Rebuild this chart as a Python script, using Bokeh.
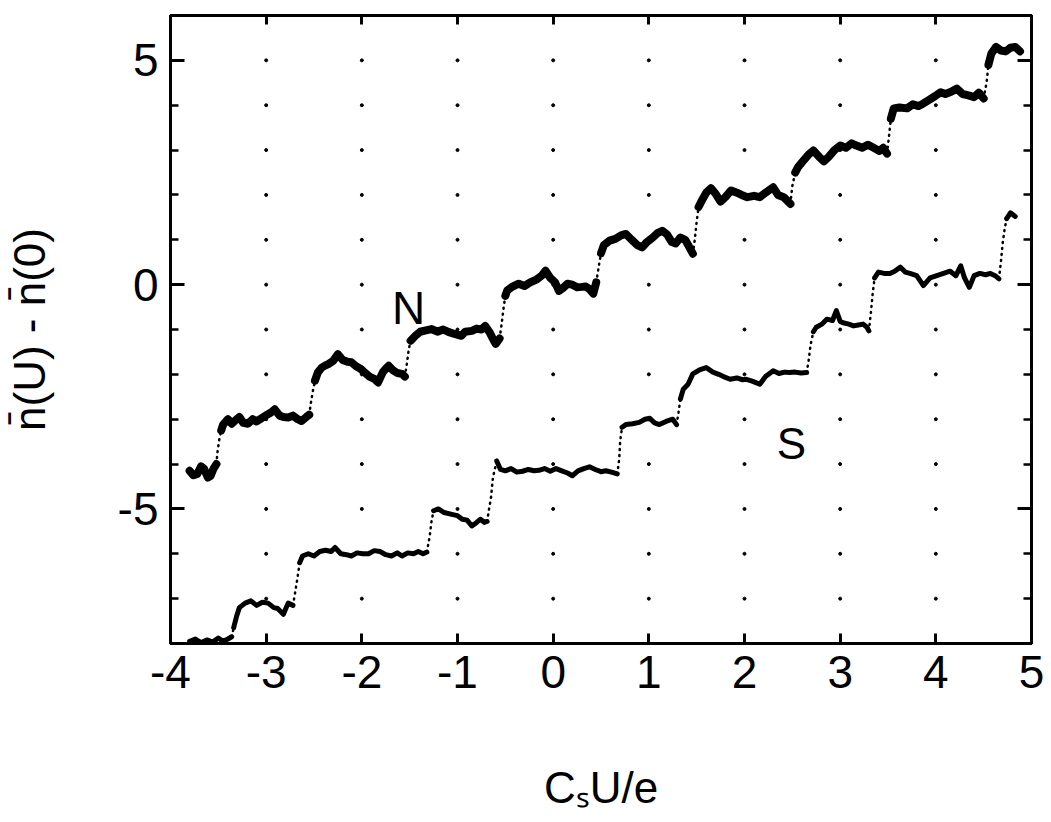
import numpy as np
from bokeh.plotting import figure
from bokeh.models import Range1d, FixedTicker, LinearAxis, Label, CustomJSTickFormatter
from bokeh.embed import file_html
from bokeh.resources import INLINE

# ---------------- data ----------------
X_TICKS = [-4, -3, -2, -1, 0, 1, 2, 3, 4, 5]
X_TICK_LABELS = ["-4", "-3", "-2", "-1", "0", "1", "2", "3", "4", "5"]
Y_TICKS = [-5, 0, 5]
Y_TICK_LABELS = ["-5", "0", "5"]
Y_MINOR = list(range(-8, 7))

N_X = [-3.80, -3.76, -3.72, -3.68, -3.65, -3.61, -3.58, -3.55, -3.52,
       -3.51, -3.49, -3.47, -3.45, -3.40, -3.36, -3.33, -3.28, -3.24, -3.19, -3.14, -3.10, -3.05,
       -2.99, -2.95, -2.91, -2.86, -2.82, -2.77, -2.72, -2.67, -2.63, -2.58, -2.55,
       -2.53, -2.51, -2.49, -2.46, -2.42, -2.38, -2.35, -2.30, -2.25, -2.20, -2.15, -2.11, -2.06,
       -2.01, -1.97, -1.92, -1.87, -1.83, -1.78, -1.74, -1.72, -1.68, -1.63, -1.58, -1.55,
       -1.53, -1.51, -1.49, -1.44, -1.39, -1.33, -1.27, -1.21, -1.15, -1.09, -1.03, -0.96, -0.92,
       -0.85, -0.80, -0.75, -0.71, -0.66, -0.62, -0.60, -0.56,
       -0.54, -0.52, -0.50, -0.48, -0.43, -0.36, -0.30, -0.24, -0.17, -0.12, -0.08, -0.03, 0.02,
       0.06, 0.10, 0.15, 0.20, 0.25, 0.30, 0.34, 0.38, 0.42,
       0.45, 0.48, 0.50, 0.53, 0.59, 0.65, 0.71, 0.76, 0.82, 0.88, 0.93, 0.98, 1.04, 1.09, 1.14,
       1.19, 1.24, 1.28, 1.33, 1.38, 1.42, 1.46,
       1.48, 1.50, 1.52, 1.56, 1.60, 1.65, 1.70, 1.75, 1.80, 1.86, 1.92, 1.97, 2.03, 2.10, 2.16,
       2.22, 2.30, 2.35, 2.41, 2.48,
       2.50, 2.53, 2.56, 2.61, 2.67, 2.72, 2.78, 2.83, 2.88, 2.94, 3.00, 3.06, 3.12, 3.17, 3.23,
       3.29, 3.35, 3.41, 3.45, 3.49,
       3.51, 3.53, 3.56, 3.62, 3.70, 3.76, 3.82, 3.87, 3.93, 3.99, 4.05, 4.10, 4.16, 4.22, 4.28,
       4.34, 4.40, 4.45, 4.50,
       4.53, 4.55, 4.58, 4.63, 4.68, 4.73, 4.78, 4.83, 4.88]
N_Y = [-4.15, -4.25, -4.22, -4.05, -4.10, -4.30, -4.26, -4.10, -4.00,
       -3.75, -3.45, -3.25, -3.12, -3.00, -3.10, -3.04, -2.95, -3.08, -3.10, -3.00, -3.05, -2.98,
       -2.90, -2.85, -2.78, -2.92, -2.95, -2.96, -2.92, -3.00, -3.04, -2.95, -2.90,
       -2.60, -2.35, -2.14, -1.96, -1.85, -1.80, -1.77, -1.70, -1.55, -1.68, -1.72, -1.73, -1.82,
       -1.88, -1.96, -2.05, -2.10, -2.18, -1.95, -1.85, -1.81, -1.90, -1.97, -1.99, -2.05,
       -1.77, -1.45, -1.25, -1.14, -1.05, -1.02, -0.99, -1.05, -1.00, -1.06, -1.10, -1.14, -1.05,
       -1.03, -0.98, -1.00, -0.92, -1.08, -1.25, -1.32, -1.20,
       -0.90, -0.55, -0.25, -0.13, -0.05, 0.02, -0.03, 0.05, 0.12, 0.20, 0.31, 0.15, 0.05,
       -0.14, -0.08, 0.02, 0.00, -0.06, -0.05, -0.04, -0.10, -0.20,
       0.05, 0.45, 0.70, 0.88, 0.98, 1.02, 1.10, 1.13, 1.00, 0.88, 0.83, 0.95, 1.05, 1.15, 1.20,
       1.12, 0.95, 0.92, 1.05, 1.00, 0.85, 0.69,
       1.00, 1.40, 1.73, 1.90, 2.05, 2.15, 2.02, 1.85, 1.95, 2.10, 2.05, 2.00, 1.95, 1.98, 1.95,
       2.05, 2.17, 2.00, 1.95, 1.80,
       2.20, 2.50, 2.62, 2.75, 2.90, 2.99, 2.85, 2.75, 2.85, 3.00, 3.10, 3.05, 3.15, 3.10, 3.05,
       3.12, 3.05, 2.98, 3.05, 2.92,
       3.30, 3.70, 3.93, 3.95, 3.93, 4.02, 3.98, 4.04, 4.12, 4.20, 4.29, 4.25, 4.30, 4.37, 4.25,
       4.22, 4.18, 4.28, 4.15,
       4.50, 4.90, 5.15, 5.30, 5.22, 5.20, 5.28, 5.30, 5.20]

S_X = [-3.80, -3.74, -3.68, -3.62, -3.56, -3.50, -3.45, -3.40, -3.36,
       -3.34, -3.31, -3.28, -3.22, -3.16, -3.10, -3.04, -2.98, -2.92, -2.88, -2.82, -2.77, -2.72,
       -2.70, -2.67, -2.65, -2.62, -2.56, -2.50, -2.44, -2.38, -2.32, -2.28, -2.22, -2.16, -2.11,
       -2.05, -1.99, -1.93, -1.87, -1.81, -1.75, -1.69, -1.63, -1.58, -1.52, -1.46, -1.41, -1.36,
       -1.32,
       -1.29, -1.27, -1.25, -1.20, -1.14, -1.06, -1.00, -0.95, -0.90, -0.85, -0.80, -0.76, -0.72,
       -0.69,
       -0.67, -0.65, -0.63, -0.59, -0.55, -0.50, -0.44, -0.38, -0.32, -0.26, -0.20, -0.15, -0.09,
       -0.03, 0.03, 0.09, 0.15, 0.20, 0.26, 0.32, 0.38, 0.44, 0.50, 0.55, 0.61, 0.67,
       0.69, 0.70, 0.72, 0.76, 0.83, 0.90, 0.96, 1.01, 1.06, 1.11, 1.18, 1.25, 1.29,
       1.31, 1.33, 1.36, 1.41, 1.46, 1.53, 1.60, 1.67, 1.73, 1.78, 1.85, 1.92, 1.98, 2.02, 2.08,
       2.16, 2.22, 2.30, 2.36, 2.42, 2.47, 2.53, 2.59, 2.65,
       2.67, 2.69, 2.72, 2.75, 2.81, 2.86, 2.92, 2.96, 3.00, 3.03, 3.09, 3.14, 3.19, 3.24, 3.28,
       3.30,
       3.32, 3.34, 3.36, 3.40, 3.46, 3.52, 3.57, 3.63, 3.68, 3.73, 3.80, 3.87, 3.94, 4.01, 4.08,
       4.15, 4.21, 4.26, 4.30, 4.35, 4.40, 4.46, 4.52, 4.57, 4.62, 4.66,
       4.68, 4.70, 4.72, 4.74, 4.78, 4.83]
S_Y = [-7.95, -7.90, -7.98, -7.92, -7.97, -7.88, -7.95, -7.90, -7.85,
       -7.65, -7.40, -7.20, -7.10, -7.05, -7.15, -7.08, -7.10, -7.20, -7.22, -7.35, -7.10, -7.15,
       -6.90, -6.50, -6.20, -6.05, -6.00, -6.05, -5.95, -5.92, -5.95, -5.86, -6.00, -6.02, -6.05,
       -5.98, -6.00, -6.00, -5.93, -5.95, -6.02, -6.05, -5.98, -6.05, -5.98, -6.00, -5.95, -6.00,
       -5.96,
       -5.60, -5.25, -5.04, -5.00, -5.08, -5.12, -5.15, -5.23, -5.25, -5.38, -5.30, -5.23, -5.30,
       -5.28,
       -5.00, -4.75, -4.30, -3.93, -4.12, -4.15, -4.10, -4.18, -4.16, -4.12, -4.15, -4.14, -4.10,
       -4.16, -4.10, -4.15, -4.20, -4.26, -4.15, -4.10, -4.06, -4.12, -4.17, -4.15, -4.18, -4.22,
       -3.90, -3.50, -3.18, -3.12, -3.10, -3.07, -3.00, -2.98, -3.08, -3.12, -3.05, -3.00, -3.12,
       -2.85, -2.55, -2.33, -2.22, -1.99, -1.90, -1.85, -1.95, -2.00, -2.05, -2.11, -2.08, -2.12,
       -2.11, -2.15, -2.22, -2.05, -1.92, -1.98, -1.95, -1.96, -1.95, -1.97, -1.96,
       -1.70, -1.35, -1.05, -0.95, -0.88, -0.77, -0.80, -0.58, -0.82, -0.85, -0.88, -0.92, -0.90,
       -0.88, -0.95, -1.03,
       -0.65, -0.20, 0.15, 0.28, 0.25, 0.25, 0.30, 0.39, 0.28, 0.25, 0.20, -0.02, 0.15, 0.20, 0.25,
       0.30, 0.20, 0.42, 0.15, -0.06, 0.20, 0.25, 0.22, 0.25, 0.20, 0.13,
       0.50, 0.95, 1.25, 1.47, 1.60, 1.52]

FONT = "Liberation Sans"


def runs(xs, ys, thr=9.0):
    """Split a trace into flat runs (plateaus) and steep runs (jumps)."""
    flat, steep = [], []
    cur_kind, cur = None, None
    for i in range(len(xs) - 1):
        dx = xs[i + 1] - xs[i]
        dy = ys[i + 1] - ys[i]
        kind = "steep" if abs(dy) > thr * abs(dx) else "flat"
        if kind != cur_kind:
            if cur is not None:
                (flat if cur_kind == "flat" else steep).append(cur)
            cur = ([xs[i]], [ys[i]])
            cur_kind = kind
        cur[0].append(xs[i + 1])
        cur[1].append(ys[i + 1])
    if cur is not None:
        (flat if cur_kind == "flat" else steep).append(cur)
    return flat, steep


p = figure(width=1050, height=820,
           x_range=Range1d(X_TICKS[0], X_TICKS[-1]), y_range=Range1d(-8, 6),
           output_backend="svg", toolbar_location=None,
           min_border_left=170, min_border_right=19,
           min_border_top=15, min_border_bottom=177,
           x_axis_location=None, y_axis_location=None)
p.xgrid.visible = False
p.ygrid.visible = False
p.outline_line_color = "black"
p.outline_line_width = 3
p.background_fill_color = "white"
p.border_fill_color = "white"

# grid of dots at integer positions
gx, gy = np.meshgrid(np.array(X_TICKS[1:-1]), np.arange(-7, 6))
p.scatter(gx.ravel(), gy.ravel(), size=3, color="black")

# traces
for xs, ys, w in [(N_X, N_Y, 8), (S_X, S_Y, 5)]:
    flat, steep = runs(xs, ys)
    p.multi_line([r[0] for r in flat], [r[1] for r in flat], line_color="black",
                 line_width=w, line_join="round", line_cap="round")
    p.multi_line([r[0] for r in steep], [r[1] for r in steep], line_color="black",
                 line_width=2.5, line_dash="1 5", line_cap="round")


def style(ax, labels=True, major_in=10, minor_in=0):
    ax.axis_line_width = 3
    ax.axis_line_color = "black"
    ax.major_tick_in = major_in
    ax.major_tick_out = 0
    ax.minor_tick_in = minor_in
    ax.minor_tick_out = 0
    ax.major_tick_line_width = 3
    ax.minor_tick_line_width = 2.5
    ax.major_label_text_font = FONT
    ax.major_label_text_font_size = "46px"
    ax.major_label_text_color = "black"
    ax.axis_label_text_font = FONT
    ax.axis_label_text_font_size = "44px"
    ax.axis_label_text_font_style = "normal"
    ax.axis_label_text_color = "black"
    if not labels:
        ax.formatter = CustomJSTickFormatter(code="return ''")
        ax.major_label_standoff = 0


xb = LinearAxis(ticker=FixedTicker(ticks=X_TICKS, minor_ticks=[]))
xb.major_label_overrides = {t: l for t, l in zip(X_TICKS, X_TICK_LABELS)}
style(xb, major_in=10)
xb.major_label_standoff = 12
xb.axis_label = "C\u209bU/e"
xb.axis_label_standoff = 72
p.add_layout(xb, "below")

xt = LinearAxis(ticker=FixedTicker(ticks=X_TICKS, minor_ticks=[]))
style(xt, labels=False, major_in=9)
p.add_layout(xt, "above")

yl = LinearAxis(ticker=FixedTicker(ticks=Y_TICKS, minor_ticks=Y_MINOR))
yl.major_label_overrides = {t: l for t, l in zip(Y_TICKS, Y_TICK_LABELS)}
style(yl, major_in=14, minor_in=8)
yl.major_label_standoff = 12
yl.axis_label = "n\u0304(U) - n\u0304(0)"
yl.axis_label_standoff = 61
p.add_layout(yl, "left")

yr = LinearAxis(ticker=FixedTicker(ticks=Y_TICKS, minor_ticks=Y_MINOR))
style(yr, labels=False, major_in=14, minor_in=8)
p.add_layout(yr, "right")

# curve labels
p.add_layout(Label(x=-1.512, y=-0.53, text="N", text_align="center",
                   text_baseline="alphabetic", text_font=FONT, text_font_size="46px",
                   text_color="black"))
p.add_layout(Label(x=2.49, y=-3.54, text="S", text_align="center",
                   text_baseline="alphabetic", text_font=FONT, text_font_size="44px",
                   text_color="black"))

open("out.html", "w").write(file_html(p, INLINE))
